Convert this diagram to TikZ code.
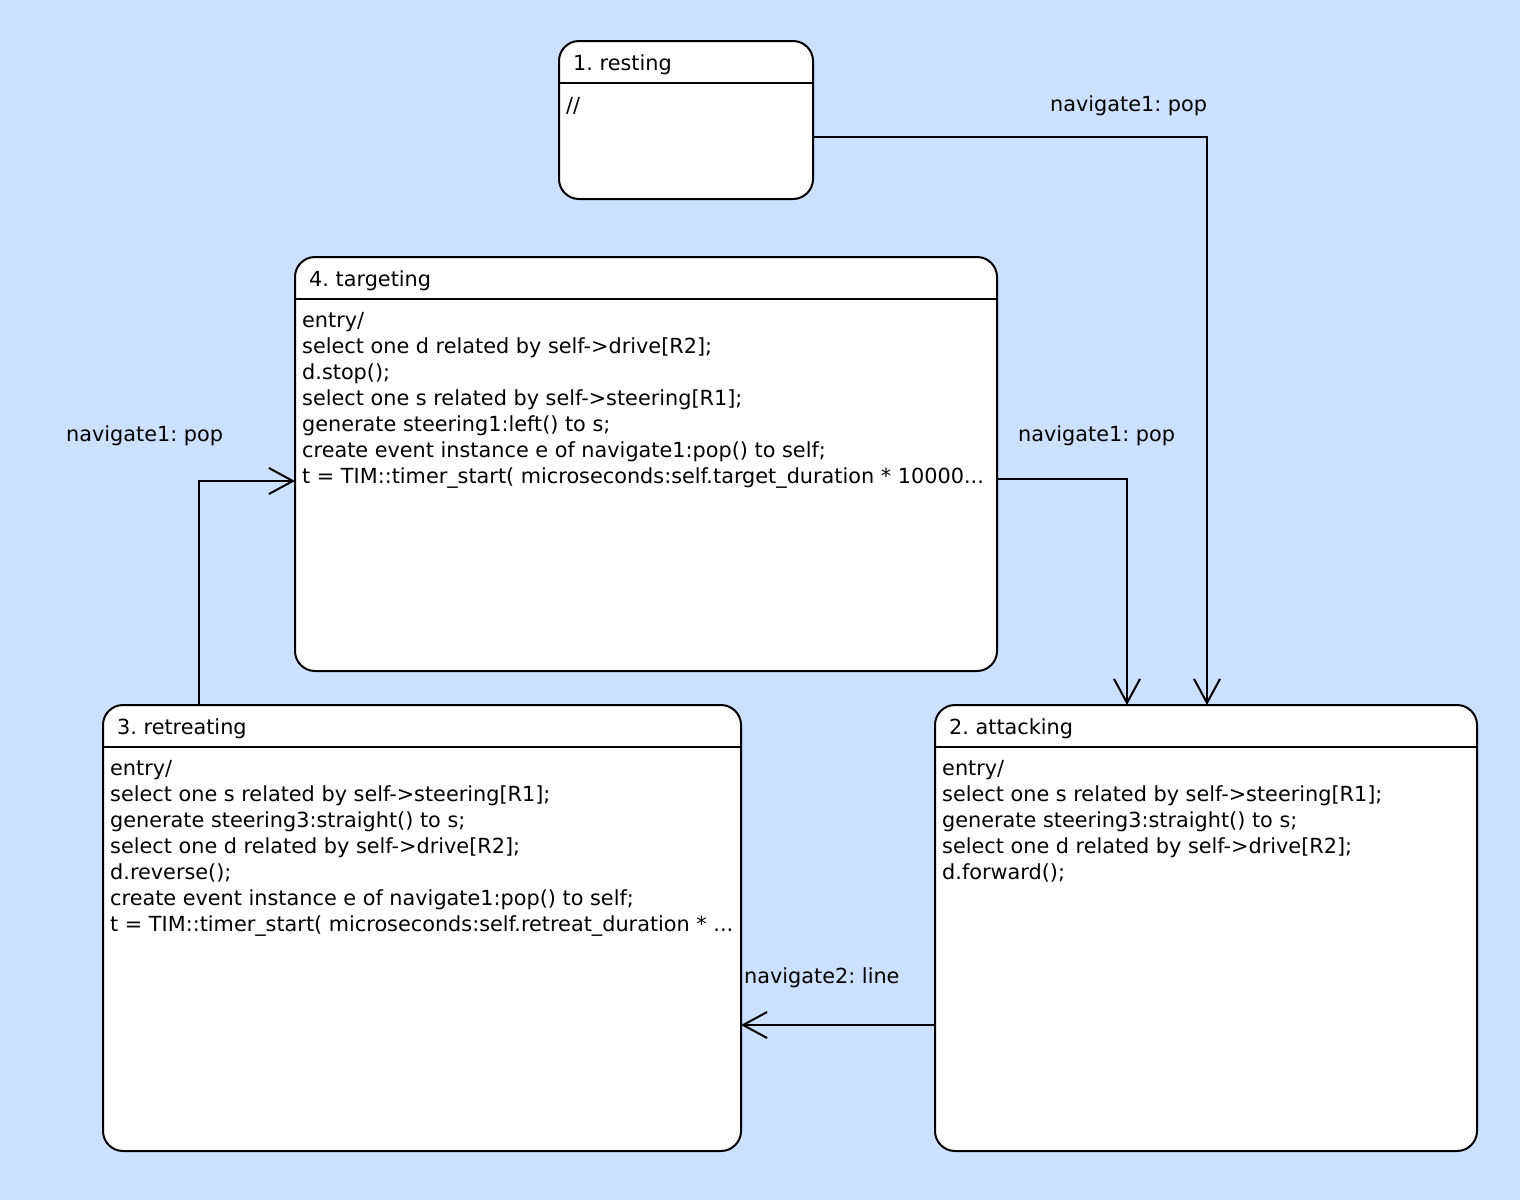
\documentclass[tikz,border=0pt]{standalone}
\usepackage{fontspec}
\setmainfont{DejaVu Sans}
\frenchspacing
\usetikzlibrary{arrows.meta}
\definecolor{bg}{RGB}{204,224,255}
\tikzset{
  statebox/.style={draw=black, line width=2pt, fill=white, rounded corners=20pt, rectangle, inner sep=0pt, outer sep=0pt},
  sep/.style={line width=2pt},
  arr/.style={line width=2pt, -{Straight Barb[length=24pt, width=26pt, line width=2pt]}},
  txt/.style={anchor=base west, inner sep=0pt, font=\fontsize{20.8}{26}\selectfont\frenchspacing},
}
\begin{document}
\begin{tikzpicture}[x=1pt, y=-1pt]
\fill[bg] (0,0) rectangle (1520,1200);
\useasboundingbox (0,0) rectangle (1520,1200);

% states
\node[statebox, minimum width=254pt, minimum height=158pt] (resting) at (686,120) {};
\node[statebox, minimum width=702pt, minimum height=414pt] (targeting) at (646,464) {};
\node[statebox, minimum width=638pt, minimum height=446pt] (retreating) at (422,928) {};
\node[statebox, minimum width=542pt, minimum height=446pt] (attacking) at (1206,928) {};

\draw[sep] (resting.west |- 0,83) -- (resting.east |- 0,83);
\draw[sep] (targeting.west |- 0,299) -- (targeting.east |- 0,299);
\draw[sep] (retreating.west |- 0,747) -- (retreating.east |- 0,747);
\draw[sep] (attacking.west |- 0,747) -- (attacking.east |- 0,747);

% titles
\node[txt] (restingtitle) at (573,70) {1. resting};
\node[txt] (targetingtitle) at (309,286) {4. targeting};
\node[txt] (retreatingtitle) at (117,734) {3. retreating};
\node[txt] (attackingtitle) at (949,734) {2. attacking};

% bodies
\node[txt] (restingbody) at (566,112) {//};
\node[txt] (targetingbody) at (302,327) {\begin{tabular}[t]{@{}l@{}}
entry/\\
select one d related by self->drive[R2];\\
d.stop();\\
select one s related by self->steering[R1];\\
generate steering1:left() to s;\\
create event instance e of navigate1:pop() to self;\\
t = TIM::timer\_start( microseconds:self.target\_duration * 10000...
\end{tabular}};
\node[txt] (retreatingbody) at (110,775) {\begin{tabular}[t]{@{}l@{}}
entry/\\
select one s related by self->steering[R1];\\
generate steering3:straight() to s;\\
select one d related by self->drive[R2];\\
d.reverse();\\
create event instance e of navigate1:pop() to self;\\
t = TIM::timer\_start( microseconds:self.retreat\_duration * ...
\end{tabular}};
\node[txt] (attackingbody) at (942,775) {\begin{tabular}[t]{@{}l@{}}
entry/\\
select one s related by self->steering[R1];\\
generate steering3:straight() to s;\\
select one d related by self->drive[R2];\\
d.forward();
\end{tabular}};

% transitions
\draw[arr] (resting.east |- 0,137) -| (attacking.north -| 1207,0);
\draw[arr] (targeting.east |- 0,479) -| (attacking.north -| 1127,0);
\draw[arr] (retreating.north -| 199,0) |- (targeting.west |- 0,481);
\draw[arr] (attacking.west |- 0,1025) -- (retreating.east |- 0,1025);

% labels
\node[txt] (lab1) at (1050,111) {navigate1: pop};
\node[txt] (lab2) at (1018,441) {navigate1: pop};
\node[txt] (lab3) at (66,441) {navigate1: pop};
\node[txt] (lab4) at (744,983) {navigate2: line};
\end{tikzpicture}
\end{document}
